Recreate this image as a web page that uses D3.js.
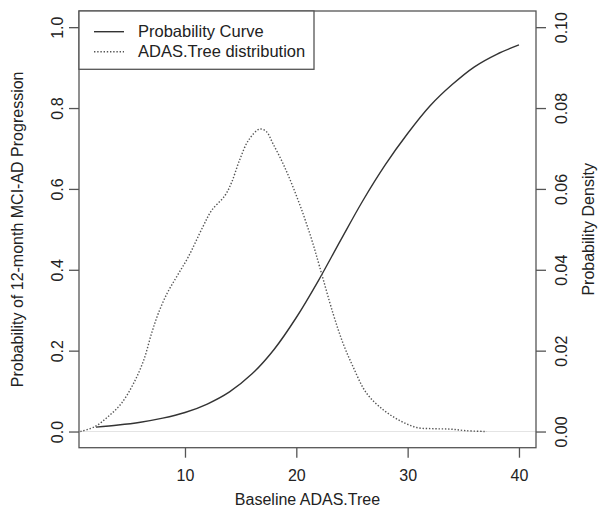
<html>
  <head>
    <meta charset="utf-8" />
    <script src="https://cdnjs.cloudflare.com/ajax/libs/d3/7.6.1/d3.min.js"></script>
    <style>
      body { margin: 0; background: #fff; }
      svg { display: block; }
      text { font-family: "Liberation Sans", Arial, sans-serif; fill: #222; }
    </style>
  </head>
  <body>
    <svg width="598" height="509"></svg>
  </body>

  <script>
    // logistic probability curve
    var probX = [2, 4, 6, 8, 10, 12, 14, 16, 18, 20, 22, 24, 26, 28, 30, 32, 34, 36, 38, 40];
    var probY = [0.011, 0.016, 0.023, 0.033, 0.047, 0.068, 0.098, 0.142, 0.203, 0.282,
                 0.374, 0.474, 0.572, 0.66, 0.737, 0.805, 0.858, 0.902, 0.933, 0.956];

    // kernel density of ADAS.Tree
    var densX = [0.6, 1.9, 3.1, 4.3, 5.4, 6.3, 7.0, 7.6, 8.4, 9.3, 10.3, 11.6, 12.4, 13.6, 14.2,
                 14.9, 15.7, 16.7, 17.3, 17.9, 18.8, 19.7, 20.6, 21.4, 22.1, 23.3, 24.2,
                 25.1, 26.3, 27.8, 29.3, 30.8, 32.3, 33.8, 35.3, 37.1];
    var densY = [0, 0.0012, 0.0037, 0.007, 0.012, 0.0177, 0.0243, 0.0292, 0.0342, 0.0385,
                 0.0432, 0.0506, 0.0547, 0.0584, 0.0617, 0.0671, 0.072, 0.0748, 0.0742,
                 0.0712, 0.0663, 0.0605, 0.0539, 0.0473, 0.0407, 0.0292, 0.0218, 0.016,
                 0.0095, 0.0054, 0.0027, 0.001, 0.0007, 0.0006, 0.0002, 0];

    var xTicks = [10, 20, 30, 40];
    var leftTicks = [0, 0.2, 0.4, 0.6, 0.8, 1.0];
    var rightTicks = [0, 0.02, 0.04, 0.06, 0.08, 0.1];
    var legendLabels = ["Probability Curve", "ADAS.Tree distribution"];

    const L = 79, R = 536, T = 11, B = 447.7;
    const svg = d3.select("svg");
    svg.append("rect").attr("width", 598).attr("height", 509).attr("fill", "#fff");

    const xScale = d3.scaleLinear().domain([0.48, 41.53]).range([L, R]);
    const yScale = d3.scaleLinear().domain([-0.04, 1.04]).range([B, T]);
    const y2Scale = d3.scaleLinear().domain([-0.004, 0.104]).range([B, T]);

    // zero reference line
    svg.append("line")
      .attr("x1", L).attr("x2", R)
      .attr("y1", yScale(0)).attr("y2", yScale(0))
      .attr("stroke", "#e4e4e4").attr("stroke-width", 1);

    const fs = "16px";

    // bottom axis
    const xAxis = d3.axisBottom(xScale).tickValues(xTicks).tickSize(10).tickPadding(6)
      .tickFormat(d3.format("d"));
    const gx = svg.append("g").attr("transform", "translate(0," + B + ")").call(xAxis);

    const yAxis = d3.axisLeft(yScale).tickValues(leftTicks).tickSize(10)
      .tickFormat(d3.format(".1f"));
    const gy = svg.append("g").attr("transform", "translate(" + L + ",0)").call(yAxis);

    const y2Axis = d3.axisRight(y2Scale).tickValues(rightTicks).tickSize(10)
      .tickFormat(d3.format(".2f"));
    const gy2 = svg.append("g").attr("transform", "translate(" + R + ",0)").call(y2Axis);

    [gx, gy, gy2].forEach(function (g) {
      g.select("path.domain").remove();
      g.selectAll(".tick line").attr("stroke", "#555").attr("stroke-width", 1.3);
      g.selectAll("text").style("font-size", fs).attr("fill", "#222");
    });
    gx.selectAll(".tick text").attr("dy", "0.71em").attr("y", 22);

    // rotated y tick labels, like R las=0
    gy.selectAll(".tick text")
      .attr("x", null).attr("dy", null)
      .attr("text-anchor", "middle")
      .attr("transform", "translate(-16,0) rotate(-90)");
    gy2.selectAll(".tick text")
      .attr("x", null).attr("dy", null)
      .attr("text-anchor", "middle")
      .attr("transform", "translate(30.5,0) rotate(-90)");

    // box
    svg.append("rect")
      .attr("x", L).attr("y", T).attr("width", R - L).attr("height", B - T)
      .attr("fill", "none").attr("stroke", "#555").attr("stroke-width", 1.3);

    // curves
    const probLine = d3.line()
      .x((d, i) => xScale(probX[i]))
      .y((d) => yScale(d))
      .curve(d3.curveCatmullRom);
    svg.append("path").datum(probY)
      .attr("d", probLine)
      .attr("fill", "none").attr("stroke", "#333").attr("stroke-width", 1.4);

    const densLine = d3.line()
      .x((d, i) => xScale(densX[i]))
      .y((d) => y2Scale(d))
      .curve(d3.curveCatmullRom);
    svg.append("path").datum(densY)
      .attr("d", densLine)
      .attr("fill", "none").attr("stroke", "#555").attr("stroke-width", 1.4)
      .attr("stroke-dasharray", "1.4,1.8");

    // axis titles
    svg.append("text")
      .attr("x", (L + R) / 2).attr("y", 505)
      .attr("text-anchor", "middle").style("font-size", fs)
      .text("Baseline ADAS.Tree");
    svg.append("text")
      .attr("transform", "translate(23," + (T + B) / 2 + ") rotate(-90)")
      .attr("text-anchor", "middle").style("font-size", fs)
      .text("Probability of 12-month MCI-AD Progression");
    svg.append("text")
      .attr("transform", "translate(594," + (T + B) / 2 + ") rotate(-90)")
      .attr("text-anchor", "middle").style("font-size", fs)
      .text("Probability Density");

    // legend
    const leg = svg.append("g");
    leg.append("rect")
      .attr("x", L).attr("y", T).attr("width", 235).attr("height", 58.3)
      .attr("fill", "#fff").attr("stroke", "#555").attr("stroke-width", 1.3);
    legendLabels.forEach(function (lab, i) {
      const yy = 31.7 + i * 20;
      leg.append("line")
        .attr("x1", 94).attr("x2", 124).attr("y1", yy).attr("y2", yy)
        .attr("stroke", i == 0 ? "#333" : "#555").attr("stroke-width", 1.4)
        .attr("stroke-dasharray", i == 0 ? null : "1.4,1.8");
      leg.append("text")
        .attr("x", 138).attr("y", yy).attr("dy", "0.35em")
        .style("font-size", "16.5px").text(lab);
    });
  </script>
</html>
